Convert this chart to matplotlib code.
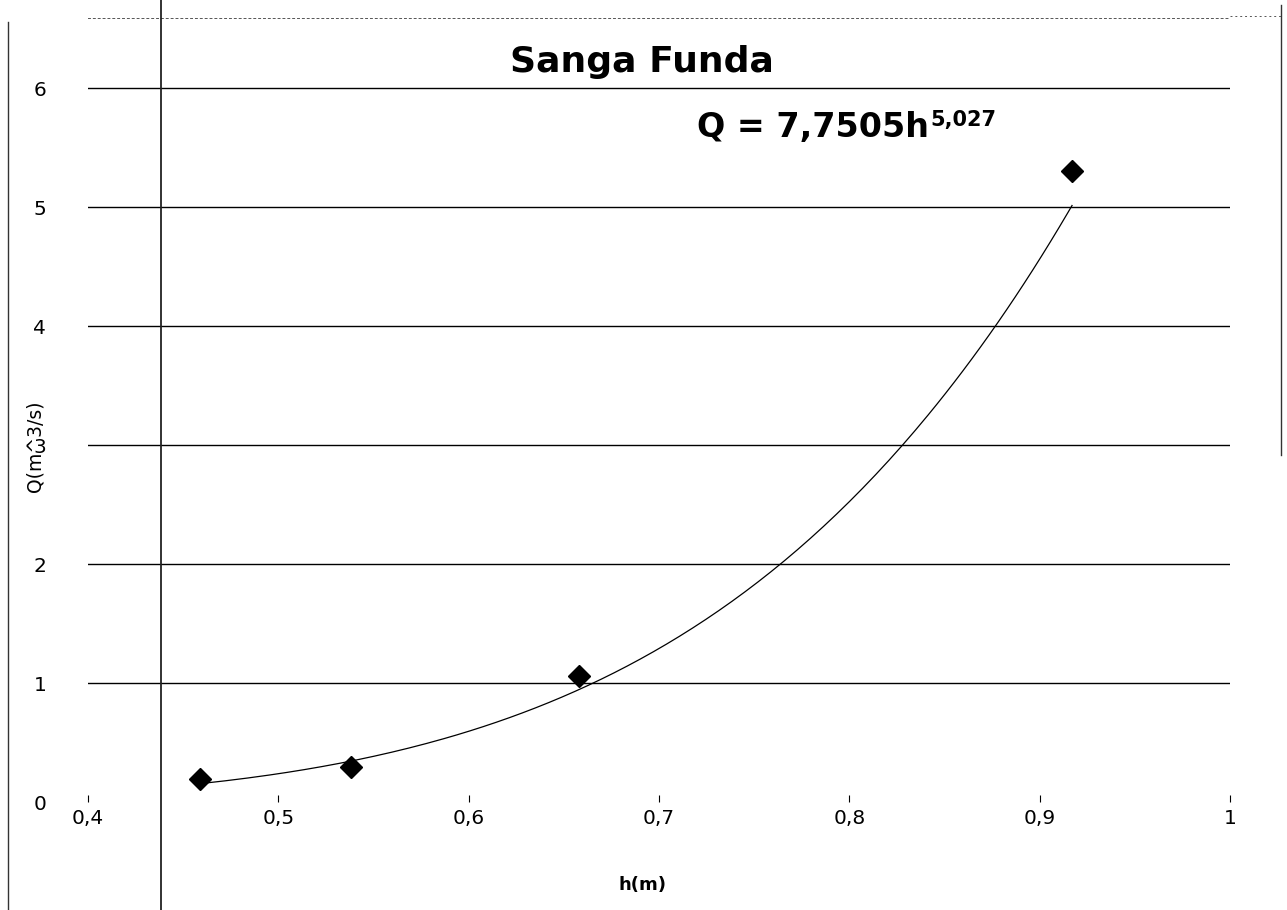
import numpy as np
import matplotlib
matplotlib.use("Agg")
import matplotlib.pyplot as plt
from matplotlib.lines import Line2D

# measured points h (m) vs Q (m3/s)
h_vals = [0.459, 0.538, 0.658, 0.917]
q_vals = [0.19, 0.29, 1.06, 5.30]

# power trendline shown on the chart
coef_a = 7.7505
coef_b = 5.027

x_ticks = [0.4, 0.5, 0.6, 0.7, 0.8, 0.9, 1.0]
x_labels = ["0,4", "0,5", "0,6", "0,7", "0,8", "0,9", "1"]
y_ticks = [0, 1, 2, 3, 4, 5, 6]

W, H = 1287, 910
fig = plt.figure(figsize=(W / 100, H / 100), dpi=100)
ax = fig.add_axes([88 / W, 1 - 802 / H, 1142 / W, 784 / H])

hh = np.linspace(min(h_vals) + 0.002, max(h_vals), 200)
ax.plot(hh, coef_a * hh ** coef_b, color="black", lw=0.9)
ax.plot(h_vals, q_vals, linestyle="none", marker="D", markersize=11,
        color="black", zorder=5)

ax.set_xlim(0.4, 1.0)
ax.set_ylim(0, 6.59)
ax.set_xticks(x_ticks)
ax.set_xticklabels(x_labels)
ax.set_yticks(y_ticks)

ax.grid(axis="y", color="black", lw=1.0)
ax.set_axisbelow(True)
ax.get_ygridlines()[0].set_visible(False)

for s in ["left", "right", "bottom"]:
    ax.spines[s].set_visible(False)
ax.spines["top"].set_linestyle((0, (2, 3)))
ax.spines["top"].set_linewidth(0.7)
ax.spines["top"].set_color("#555555")

ax.tick_params(axis="y", length=0, pad=30, labelsize=14.5, colors="black")
ax.tick_params(axis="x", direction="in", length=5, width=0.8, pad=5,
               labelsize=14.5, colors="black")

# titles and labels
fig.text(642 / W, 1 - 62 / H, "Sanga Funda", weight="bold",
         fontsize=26, ha="center", va="center")
eq = fig.text(697 / W, 1 - 128 / H, "Q = 7,7505h", weight="bold",
              fontsize=24, ha="left", va="center")
ax.annotate("5,027", xy=(1.0, 1.0), xycoords=eq, xytext=(1, 1),
            textcoords="offset points", weight="bold",
            fontsize=15, ha="left", va="top")
fig.text(643 / W, 1 - 885 / H, "h(m)", weight="bold",
         fontsize=13, ha="center", va="center")
fig.text(35 / W, 1 - 446 / H, "Q(m^3/s)", fontsize=13.5,
         rotation=90, ha="center", va="center")

# scanned frame lines
tf = fig.transFigure
fig.add_artist(Line2D([161 / W, 161 / W], [0, 1], transform=tf,
                      color="#222222", lw=1.3))
fig.add_artist(Line2D([8 / W, 8 / W], [0, 1 - 22 / H], transform=tf,
                      color="#333333", lw=1.0))
fig.add_artist(Line2D([1281 / W, 1281 / W], [1 - 455 / H, 1 - 5 / H],
                      transform=tf, color="#333333", lw=1.0))
fig.add_artist(Line2D([1230 / W, 1281 / W], [1 - 16 / H, 1 - 16 / H],
                      transform=tf, color="#555555", lw=0.7,
                      linestyle=(0, (2, 3))))

fig.savefig("out.png", dpi=100)
